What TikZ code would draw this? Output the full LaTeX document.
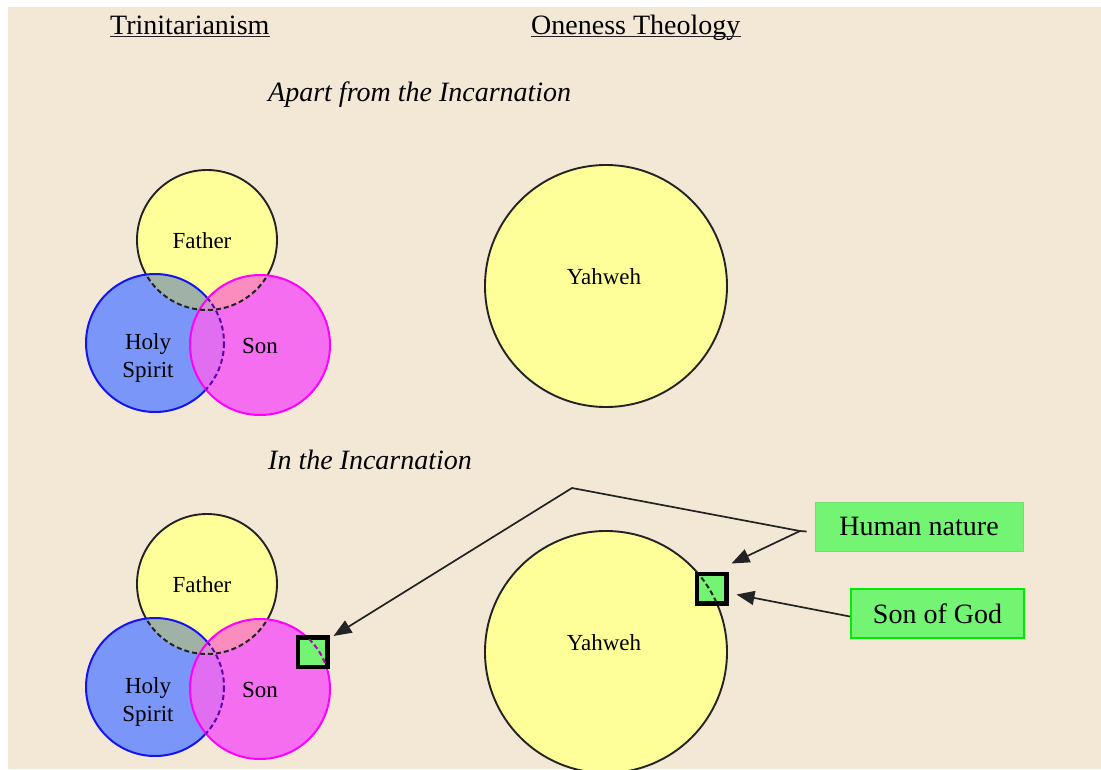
\documentclass[tikz,border=0pt]{standalone}
\usepackage{fontspec}
\setmainfont{Liberation Serif}
\usetikzlibrary{arrows.meta}
\definecolor{bgC}{RGB}{243,232,213}
\definecolor{yelC}{RGB}{255,255,153}
\definecolor{bluC}{RGB}{122,150,248}
\definecolor{pnkC}{RGB}{245,110,240}
\definecolor{mixBY}{RGB}{160,178,165}
\definecolor{mixPY}{RGB}{250,140,190}
\definecolor{mixPB}{RGB}{225,110,240}
\definecolor{mixPBY}{RGB}{215,140,205}
\definecolor{lineC}{RGB}{35,35,35}
\definecolor{bluL}{RGB}{20,20,240}
\definecolor{pnkL}{RGB}{255,0,255}
\definecolor{purL}{RGB}{90,0,170}
\definecolor{grnC}{RGB}{115,245,115}
\definecolor{grnL}{RGB}{0,235,0}
\definecolor{grnD}{RGB}{110,225,110}
\tikzset{
  fline/.style={draw=lineC,line width=1.9pt},
  bline/.style={draw=bluL,line width=2pt},
  pline/.style={draw=pnkL,line width=2pt},
  fdash/.style={draw=lineC,line width=2pt,dash pattern=on 5pt off 3pt},
  bdash/.style={draw=purL,line width=2pt,dash pattern=on 5pt off 3pt},
  pdash/.style={draw=pnkC,line width=2pt,dash pattern=on 5pt off 3pt},
  lbl/.style={inner sep=0pt,font=\fontsize{23}{28}\selectfont},
  ttl/.style={inner sep=0pt,font=\fontsize{28}{32}\selectfont},
  sqbox/.style={draw=black,line width=4.5pt,fill=grnC,minimum size=29.5pt,inner sep=0pt},
  hnbox/.style={fill=grnC,draw=grnD,line width=0.8pt,minimum width=208pt,minimum height=49pt,inner sep=0pt,font=\fontsize{28}{32}\selectfont},
  sgbox/.style={fill=grnC,draw=grnL,line width=2pt,minimum width=173pt,minimum height=49pt,inner sep=0pt,font=\fontsize{28}{32}\selectfont},
  conn/.style={draw=lineC,line width=1.7pt},
  arr/.style={conn,-{Triangle[length=18pt,width=14pt]}},
}
\newcommand\trinitygroup[2]{%
\begin{scope}[shift={(0,#1)}]
  \fill[yelC] (207,240) circle[radius=70];
  \path[fline] (207,240) circle[radius=70];
  \fill[bluC] (155,343) circle[radius=69];
  \begin{scope}
    \clip (155,343) circle[radius=69];
    \fill[mixBY] (207,240) circle[radius=70];
  \end{scope}
  \path[bline] (155,343) circle[radius=69];
  \begin{scope}
    \clip (155,343) circle[radius=69];
    \path[fdash] (207,240) circle[radius=70];
  \end{scope}
  \fill[pnkC] (260,345) circle[radius=70];
  \begin{scope}
    \clip (260,345) circle[radius=70];
    \fill[mixPB] (155,343) circle[radius=69];
    \fill[mixPY] (207,240) circle[radius=70];
    \clip (155,343) circle[radius=69];
    \fill[mixPBY] (207,240) circle[radius=70];
  \end{scope}
  \path[pline] (260,345) circle[radius=70];
  \begin{scope}
    \clip (260,345) circle[radius=70];
    \path[fdash] (207,240) circle[radius=70];
    \path[bdash] (155,343) circle[radius=69];
  \end{scope}
  \node[lbl,anchor=base] (father#2) at (202,248) {Father};
  \node[lbl,anchor=base] (son#2) at (260,353) {Son};
  \node[lbl,anchor=center,align=center] (spirit#2) at (148,358) {Holy\\Spirit};
\end{scope}}
\begin{document}
\begin{tikzpicture}[x=1pt,y=-1pt]
  \clip (0,0) rectangle (1101,769);
  \fill[bgC] (8,7) rectangle (1101,769);
  % titles
  \node[ttl,anchor=base west] (trin) at (110,34) {Trinitarianism};
  \draw[lineC,line width=1.7pt] ([yshift=-2.5pt]trin.base west) -- ([yshift=-2.5pt]trin.base east);
  \node[ttl,anchor=base west] (onen) at (531,34) {Oneness Theology};
  \draw[lineC,line width=1.7pt] ([yshift=-2.5pt]onen.base west) -- ([yshift=-2.5pt]onen.base east);
  \node[ttl,font=\fontsize{28}{32}\selectfont\itshape,anchor=base west] (apart) at (268,101) {Apart from the Incarnation};
  \node[ttl,font=\fontsize{28}{32}\selectfont\itshape,anchor=base west] (inthe) at (268,469) {In the Incarnation};
  % trinity groups
  \trinitygroup{0}{A}
  \trinitygroup{344}{B}
  % Yahweh circles
  \filldraw[fill=yelC,fline] (606,286) circle[radius=121];
  \node[lbl,anchor=base] (yahA) at (604,284) {Yahweh};
  \filldraw[fill=yelC,fline] (606,652) circle[radius=121];
  \node[lbl,anchor=base] (yahB) at (604,650) {Yahweh};
  % small squares
  \node[sqbox] (sq1) at (312.5,652) {};
  \begin{scope}
    \clip (299,639) rectangle (326,665);
    \path[pdash,draw=pnkL!70!black] (260,689) circle[radius=70];
  \end{scope}
  \node[sqbox] (sq2) at (711.5,588.5) {};
  \begin{scope}
    \clip (698,575) rectangle (725,602);
    \path[fdash] (606,652) circle[radius=121];
  \end{scope}
  % callouts
  \node[hnbox] (hn) at (919,526.5) {Human nature};
  \node[sgbox] (sg) at (937.5,613.5) {Son of God};
  \coordinate (J) at (800,531);
  \coordinate (K) at (572,488);
  \draw[conn] ([xshift=-8pt,yshift=-5pt]hn.west) -- (J);
  \draw[arr] (J) -- (K) -- ([xshift=4pt,yshift=-1pt]sq1.north east);
  \draw[arr] (J) -- ([shift={(3pt,8pt)}]sq2.north east);
  \draw[arr] ([yshift=-3pt]sg.west) -- ([shift={(8pt,-6pt)}]sq2.east);
\end{tikzpicture}
\end{document}
